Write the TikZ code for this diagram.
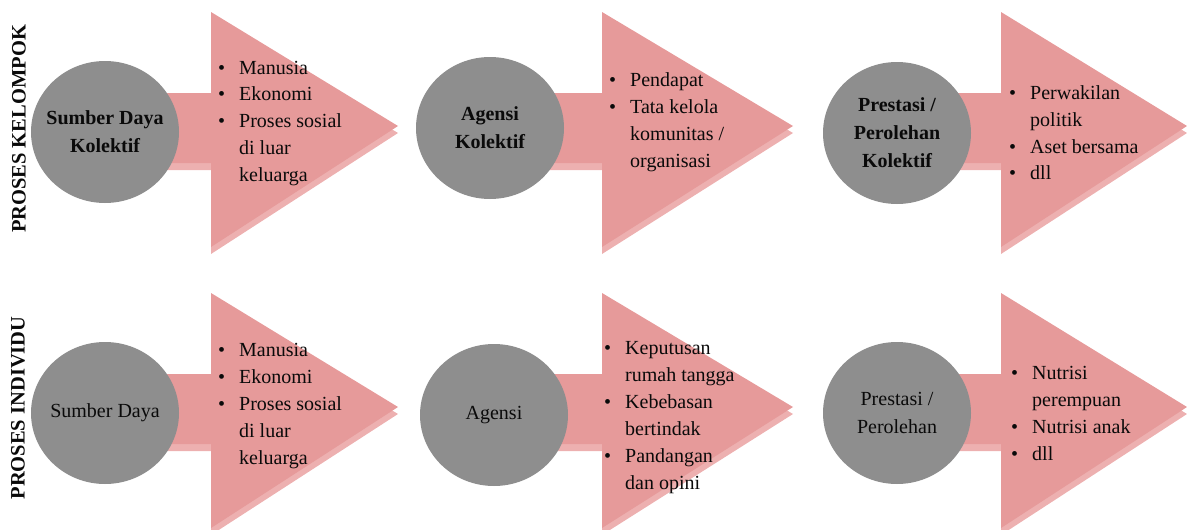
\documentclass[tikz,border=0pt]{standalone}
\usepackage{fontspec}
\setmainfont{Liberation Serif}
\usetikzlibrary{shapes.geometric}
\definecolor{arrowpink}{HTML}{E69A9A}
\definecolor{bevelpink}{HTML}{EDB0B0}
\definecolor{circgray}{HTML}{8E8E8E}
\definecolor{txt}{HTML}{0A0A0A}
\tikzset{
  pinkface/.style={fill=arrowpink, draw=none},
  bevelface/.style={fill=bevelpink, draw=none},
  disc/.style={ellipse, fill=circgray, draw=none, minimum width=148pt, minimum height=142pt, inner sep=0pt},
  disctext/.style={text=txt, align=center, inner sep=0pt, font=\fontsize{20}{28}\selectfont},
  bolddisctext/.style={disctext, font=\fontsize{20}{28}\selectfont\bfseries},
  itemlist/.style={anchor=base west, inner sep=0pt, text=txt, font=\fontsize{20}{27}\selectfont},
  sidelabel/.style={rotate=90, text=txt, font=\fontsize{20.5}{24}\selectfont\bfseries, inner sep=0pt}
}
% #1 shaft start x, #2 head base x, #3 tip x, #4 middle y
\newcommand{\pinkarrow}[4]{%
  \fill[bevelface] (#1,#4-37+7) -- (#2,#4-37+7) -- (#2,#4-118+7) -- (#3,#4-4+7) -- (#2,#4+117+7) -- (#2,#4+33+7) -- (#1,#4+33+7) -- cycle;
  \fill[pinkface] (#1,#4-37) -- (#2,#4-37) -- (#2,#4-118) -- (#3,#4-4) -- (#2,#4+117) -- (#2,#4+33) -- (#1,#4+33) -- cycle;
}
\newcommand{\blist}[1]{\begin{tabular}[t]{@{}l@{\hspace{14pt}}l@{}}#1\end{tabular}}
\begin{document}
\begin{tikzpicture}[x=1pt,y=-1pt]
\useasboundingbox (0,0) rectangle (1187,530);
% arrows
\pinkarrow{105}{211}{398}{130}
\pinkarrow{492}{602}{793}{130}
\pinkarrow{897}{1001}{1187}{130}
\pinkarrow{105}{211}{398}{411}
\pinkarrow{492}{602}{793}{411}
\pinkarrow{897}{1001}{1187}{411}
% circles
\node[disc] (c11) at (105,132) {};
\node[disc] (c12) at (490,128) {};
\node[disc] (c13) at (897,133) {};
\node[disc] (c21) at (105,413) {};
\node[disc] (c22) at (494,415) {};
\node[disc] (c23) at (897,413) {};
\node[bolddisctext] (t11) at (c11) {Sumber Daya\\Kolektif};
\node[bolddisctext] (t12) at (c12) {Agensi\\Kolektif};
\node[bolddisctext] (t13) at (c13) {Prestasi /\\Perolehan\\Kolektif};
\node[disctext] (t21) at (c21) {Sumber Daya};
\node[disctext] (t22) at (c22) {Agensi};
\node[disctext] (t23) at (c23) {Prestasi /\\Perolehan};
% lists row 1
\node[itemlist] (l11) at (218,74) {\blist{\textbullet & Manusia\\ \textbullet & Ekonomi\\ \textbullet & Proses sosial\\ & di luar\\ & keluarga}};
\node[itemlist] (l12) at (609,86) {\blist{\textbullet & Pendapat\\ \textbullet & Tata kelola\\ & komunitas /\\ & organisasi}};
\node[itemlist] (l13) at (1009,99) {\blist{\textbullet & Perwakilan\\ & politik\\ \textbullet & Aset bersama\\ \textbullet & dll}};
% lists row 2
\node[itemlist] (l21) at (218,356) {\blist{\textbullet & Manusia\\ \textbullet & Ekonomi\\ \textbullet & Proses sosial\\ & di luar\\ & keluarga}};
\node[itemlist] (l22) at (604,354) {\blist{\textbullet & Keputusan\\ & rumah tangga\\ \textbullet & Kebebasan\\ & bertindak\\ \textbullet & Pandangan\\ & dan opini}};
\node[itemlist] (l23) at (1011,379) {\blist{\textbullet & Nutrisi\\ & perempuan\\ \textbullet & Nutrisi anak\\ \textbullet & dll}};
% side labels
\node[sidelabel] (s1) at (19,129) {PROSES KELOMPOK};
\node[sidelabel] (s2) at (18,408) {PROSES INDIVIDU};
\end{tikzpicture}
\end{document}
